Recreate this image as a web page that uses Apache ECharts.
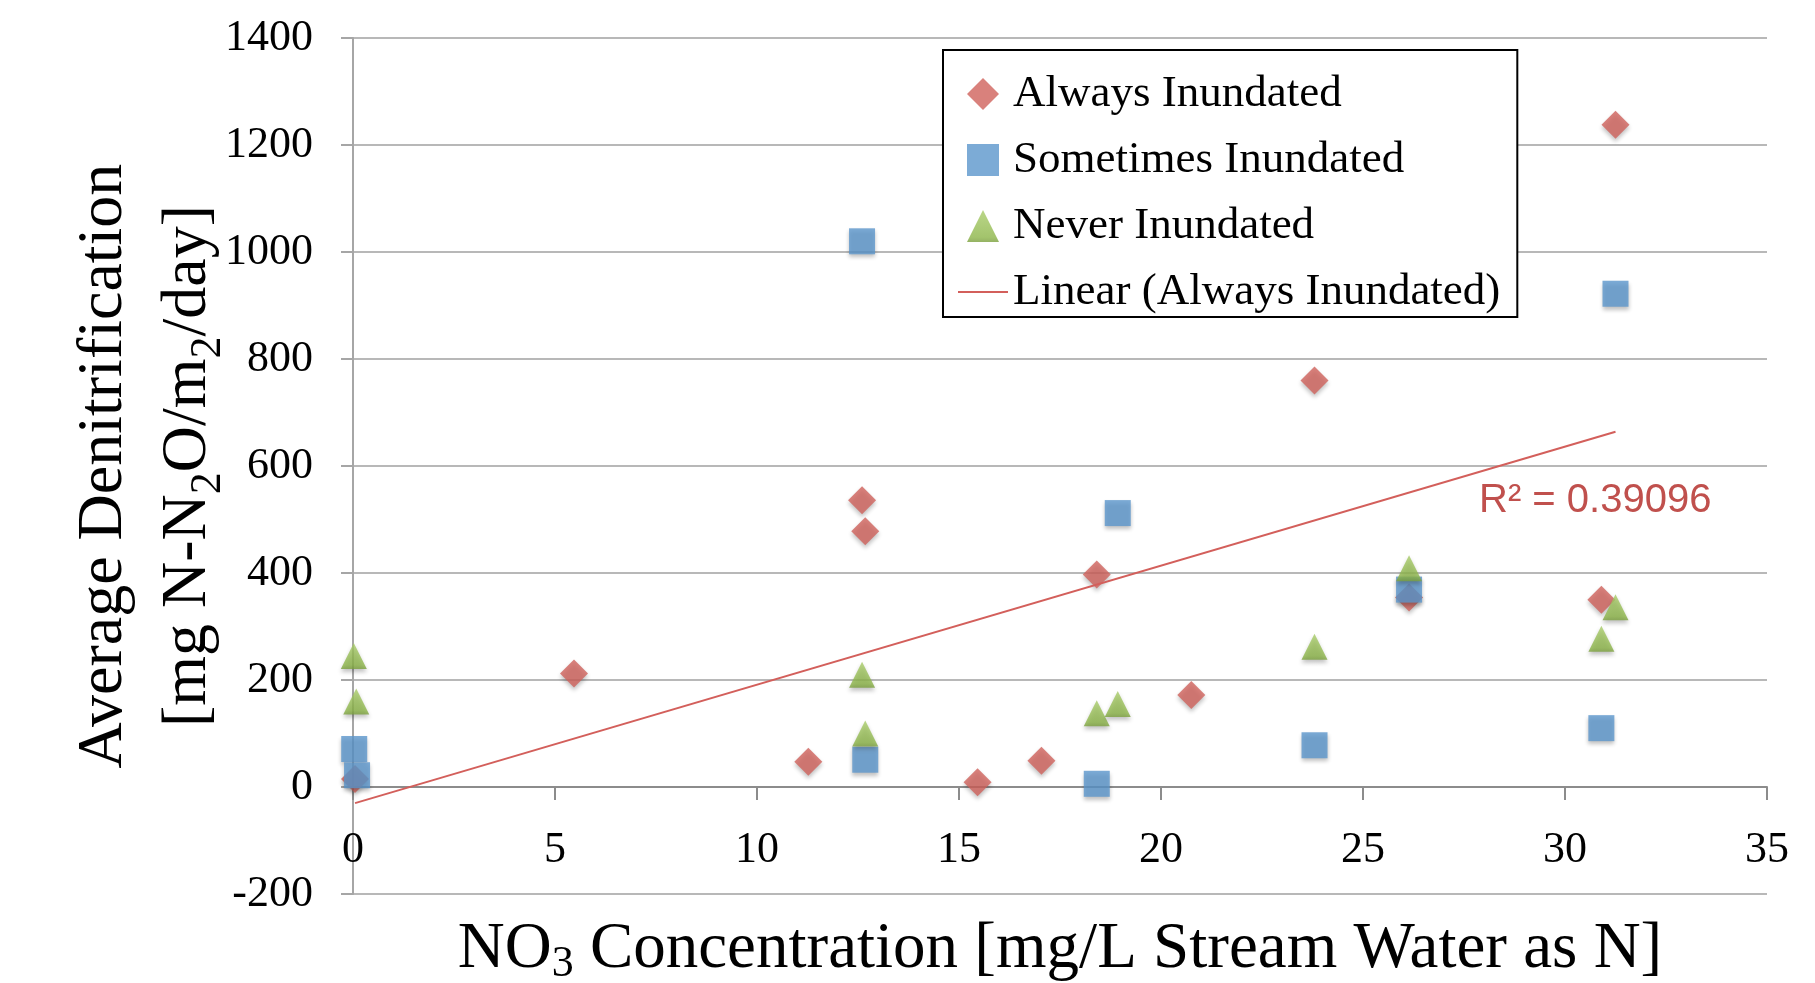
<!DOCTYPE html>
<html>
<head>
<meta charset="utf-8">
<script src="https://cdn.jsdelivr.net/npm/echarts@6/dist/echarts.min.js"></script>
<style>
html,body{margin:0;padding:0;background:#fff;}
#chart{width:1815px;height:983px;}
</style>
</head>
<body>
<div id="chart"></div>
<script>
//数据
var alwaysX=[0.05,5.47,11.27,12.6,12.68,15.46,17.04,18.41,20.75,23.8,26.14,30.9,31.25];
var alwaysY=[15,212,47,536,478,9,49,397,172,760,354,350,1238];
var sometimesX=[0.03,0.1,12.6,12.68,18.41,18.93,23.8,26.14,30.9,31.25];
var sometimesY=[71,22,1020,51,6,512,78,369,110,922];
var neverX=[0.02,0.08,12.6,12.68,18.41,18.93,23.8,26.14,30.9,31.25];
var neverY=[245,160,210,100,138,155,262,409,277,336];
var seriesNames=['Always Inundated','Sometimes Inundated','Never Inundated','Linear (Always Inundated)'];
var rSquared='R² = 0.39096';

var serif='"Liberation Serif", "Times New Roman", serif';

function pairs(xs,ys){
    var out=[];
    for(var i=0;i<xs.length;i++){
        out.push([xs[i],ys[i]]);
    }
    return out;
}

//线性趋势线 (最小二乘)
function trend(xs,ys){
    var n=xs.length,sx=0,sy=0,sxy=0,sxx=0;
    for(var i=0;i<n;i++){
        sx+=xs[i];sy+=ys[i];sxy+=xs[i]*ys[i];sxx+=xs[i]*xs[i];
    }
    var k=(n*sxy-sx*sy)/(n*sxx-sx*sx);
    var b=(sy-k*sx)/n;
    var x0=Math.min.apply(null,xs),x1=Math.max.apply(null,xs);
    return [[x0,k*x0+b],[x1,k*x1+b]];
}

var markerShadow={shadowColor:'rgba(0,0,0,0.3)',shadowBlur:4,shadowOffsetY:3};

var subStyle={fontFamily:serif,fontSize:44,color:'#000'};

var myChart=echarts.init(document.getElementById('chart'));
var option={
    backgroundColor:'#fff',
    animation:false,
    grid:{left:353,top:38,width:1414,height:856,outerBoundsMode:'none'},
    legend:{
        orient:'vertical',
        left:943,
        top:50,
        padding:[19,17,0,15],
        itemGap:16,
        itemWidth:50,
        itemHeight:32,
        symbolKeepAspect:true,
        borderColor:'#000',
        borderWidth:2,
        backgroundColor:'#fff',
        textStyle:{fontFamily:serif,fontSize:45,color:'#000',lineHeight:50},
        data:[
            {name:seriesNames[0],icon:'path://M0,-1L1,0L0,1L-1,0Z'},
            {name:seriesNames[1],icon:'path://M0,0H1V1H0Z'},
            {name:seriesNames[2],icon:'path://M0.5,0L1,1L0,1Z'},
            {name:seriesNames[3],icon:'path://M0,0H50V2H0Z'}
        ]
    },
    xAxis:{
        type:'value',
        min:0,
        max:35,
        interval:5,
        name:'NO{s|3} Concentration [mg/L Stream Water as N]',
        nameLocation:'middle',
        nameGap:20,
        nameTextStyle:{
            fontFamily:serif,fontSize:65,color:'#000',lineHeight:72,
            rich:{s:echarts.util.extend({lineHeight:28,verticalAlign:'bottom'},subStyle)}
        },
        axisLine:{onZero:true,lineStyle:{color:'#8c8c8c',width:2}},
        axisTick:{show:true,length:13,lineStyle:{color:'#8c8c8c',width:2}},
        axisLabel:{fontFamily:serif,fontSize:44,color:'#000',margin:-66},
        splitLine:{show:false}
    },
    yAxis:{
        type:'value',
        min:-200,
        max:1400,
        interval:200,
        name:'Average Denitrification\n[mg N-N{s|2}O/m{s|2}/day]',
        nameLocation:'middle',
        nameRotate:90,
        nameGap:123,
        nameMoveOverlap:false,
        nameTextStyle:{
            fontFamily:serif,fontSize:64,color:'#000',lineHeight:84,
            rich:{s:echarts.util.extend({lineHeight:42,verticalAlign:'bottom'},subStyle)}
        },
        axisLine:{show:true,lineStyle:{color:'#a6a6a6',width:2}},
        axisTick:{show:true,length:12,lineStyle:{color:'#a6a6a6',width:2}},
        axisLabel:{
            fontFamily:serif,fontSize:44,color:'#000',margin:40,
            formatter:function(v){return String(v);}
        },
        splitLine:{lineStyle:{color:'#b8b8b8',width:2}}
    },
    series:[
        {
            name:seriesNames[0],
            type:'scatter',
            symbol:'diamond',
            symbolSize:28,
            itemStyle:echarts.util.extend({color:'#cf615b'},markerShadow),
            data:pairs(alwaysX,alwaysY)
        },
        {
            name:seriesNames[1],
            type:'scatter',
            symbol:'rect',
            symbolSize:26,
            itemStyle:echarts.util.extend({color:'#5b96cc'},markerShadow),
            data:pairs(sometimesX,sometimesY)
        },
        {
            name:seriesNames[2],
            type:'scatter',
            symbol:'triangle',
            symbolSize:26,
            itemStyle:echarts.util.extend({
                color:new echarts.graphic.LinearGradient(0,0,0,1,[
                    {offset:0,color:'#a9cc6a'},
                    {offset:0.85,color:'#8cb548'},
                    {offset:1,color:'#7a9f3c'}
                ])
            },markerShadow),
            data:pairs(neverX,neverY)
        },
        {
            name:seriesNames[3],
            type:'line',
            symbol:'none',
            silent:true,
            lineStyle:{color:'#d35f5b',width:2},
            itemStyle:{color:'#d35f5b'},
            data:trend(alwaysX,alwaysY)
        }
    ],
    graphic:[
        {
            type:'text',
            x:1479,
            y:501,
            style:{
                text:rSquared,
                fontFamily:'"Liberation Sans", Arial, sans-serif',
                fontSize:40,
                fill:'#c0504d',
                align:'left',
                verticalAlign:'middle'
            }
        }
    ]
};
myChart.setOption(option);
</script>
</body>
</html>
